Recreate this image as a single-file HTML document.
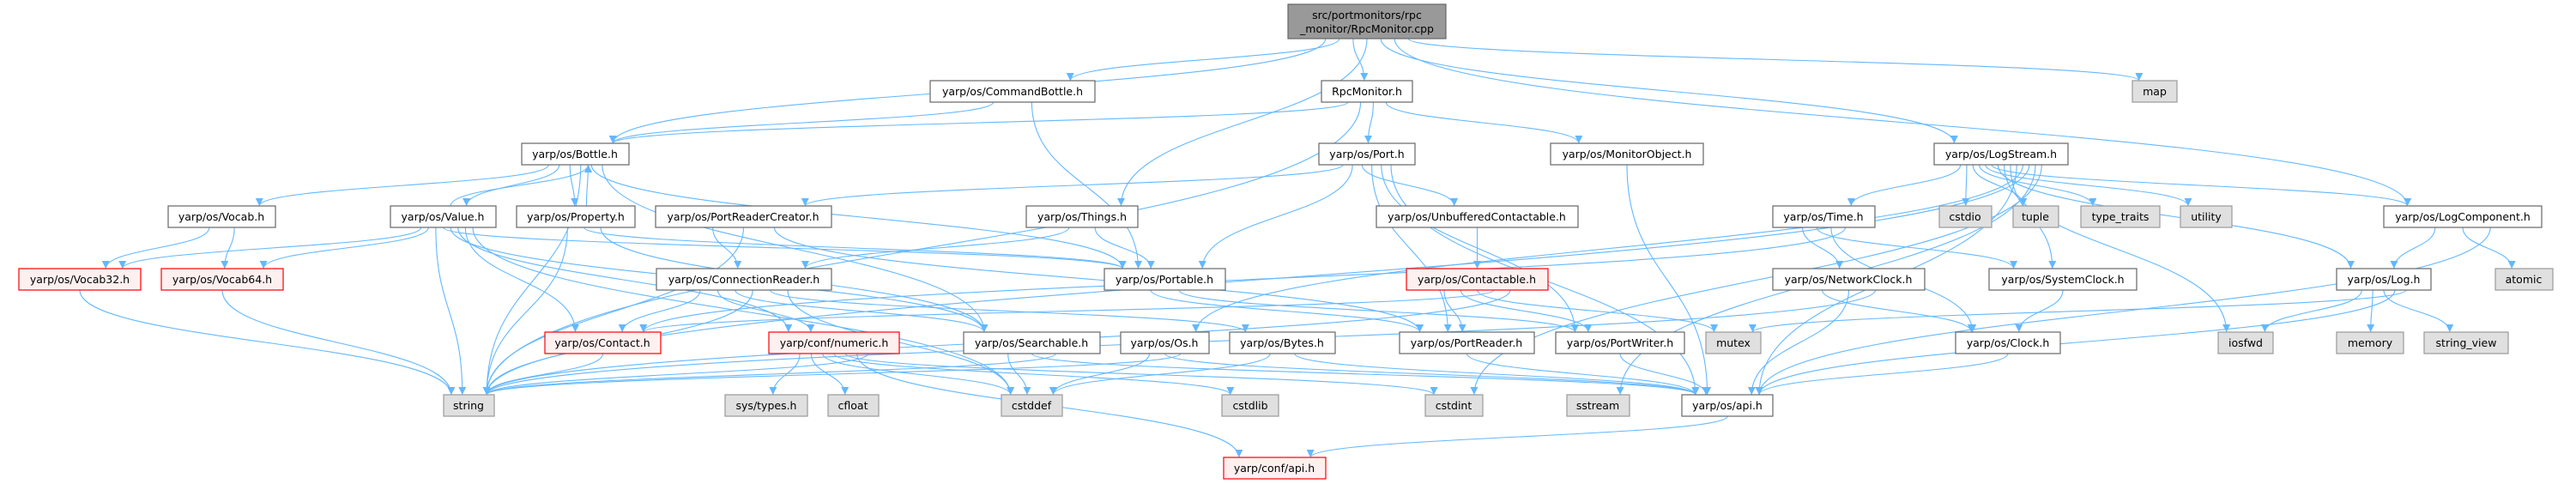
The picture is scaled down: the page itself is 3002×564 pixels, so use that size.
<!DOCTYPE html>
<html><head><meta charset="utf-8"><style>
html,body{margin:0;padding:0;background:#fff;}
svg{display:block;}
text{font-family:"DejaVu Sans","Liberation Sans",sans-serif;font-size:12.5px;text-anchor:middle;fill:#000;}
.n rect{fill:#fff;stroke:#666;stroke-width:1.2;}
.g rect{fill:#e0e0e0;stroke:#999;stroke-width:1.2;}
.r rect{fill:#fff0f0;stroke:#f00;stroke-width:1.2;}
.t rect{fill:#999;stroke:#666;stroke-width:1.2;}
path.e{fill:none;stroke:#63b8ff;stroke-width:1.1;}
</style></head><body>
<svg id="s" width="3002" height="564" viewBox="0 0 3002 564" xmlns="http://www.w3.org/2000/svg">
<defs><marker id="a" viewBox="0 0 10 10" refX="10" refY="5" markerWidth="9" markerHeight="9" markerUnits="userSpaceOnUse" orient="auto"><path d="M0,0 L10,5 L0,10 z" fill="#63b8ff"/></marker></defs>
<g id="edges"></g>
<g class="t"><rect x="1501" y="5" width="184" height="40"/><text x="1593" y="22">src/portmonitors/rpc</text><text x="1593" y="38">_monitor/RpcMonitor.cpp</text></g>
<g class="n"><rect x="1084" y="94" width="192" height="25"/><text x="1180" y="111">yarp/os/CommandBottle.h</text></g>
<g class="n"><rect x="1540" y="94" width="106" height="25"/><text x="1593" y="111">RpcMonitor.h</text></g>
<g class="g"><rect x="2485" y="94" width="52" height="25"/><text x="2511" y="111">map</text></g>
<g class="n"><rect x="608" y="167" width="125" height="25"/><text x="670" y="184">yarp/os/Bottle.h</text></g>
<g class="n"><rect x="1537" y="167" width="112" height="25"/><text x="1593" y="184">yarp/os/Port.h</text></g>
<g class="n"><rect x="1807" y="167" width="178" height="25"/><text x="1896" y="184">yarp/os/MonitorObject.h</text></g>
<g class="n"><rect x="2254" y="167" width="156" height="25"/><text x="2332" y="184">yarp/os/LogStream.h</text></g>
<g class="n"><rect x="196" y="240" width="125" height="25"/><text x="258" y="257">yarp/os/Vocab.h</text></g>
<g class="n"><rect x="455" y="240" width="123" height="25"/><text x="516" y="257">yarp/os/Value.h</text></g>
<g class="n"><rect x="602" y="240" width="138" height="25"/><text x="671" y="257">yarp/os/Property.h</text></g>
<g class="n"><rect x="764" y="240" width="205" height="25"/><text x="866" y="257">yarp/os/PortReaderCreator.h</text></g>
<g class="n"><rect x="1196" y="240" width="130" height="25"/><text x="1261" y="257">yarp/os/Things.h</text></g>
<g class="n"><rect x="1604" y="240" width="235" height="25"/><text x="1721" y="257">yarp/os/UnbufferedContactable.h</text></g>
<g class="n"><rect x="2066" y="240" width="119" height="25"/><text x="2125" y="257">yarp/os/Time.h</text></g>
<g class="g"><rect x="2260" y="240" width="61" height="25"/><text x="2290" y="257">cstdio</text></g>
<g class="g"><rect x="2346" y="240" width="53" height="25"/><text x="2372" y="257">tuple</text></g>
<g class="g"><rect x="2425" y="240" width="92" height="25"/><text x="2471" y="257">type_traits</text></g>
<g class="g"><rect x="2541" y="240" width="60" height="25"/><text x="2571" y="257">utility</text></g>
<g class="n"><rect x="2778" y="240" width="184" height="25"/><text x="2870" y="257">yarp/os/LogComponent.h</text></g>
<g class="r"><rect x="22" y="313" width="142" height="25"/><text x="93" y="330">yarp/os/Vocab32.h</text></g>
<g class="r"><rect x="188" y="313" width="142" height="25"/><text x="259" y="330">yarp/os/Vocab64.h</text></g>
<g class="n"><rect x="765" y="313" width="204" height="25"/><text x="867" y="330">yarp/os/ConnectionReader.h</text></g>
<g class="n"><rect x="1287" y="313" width="141" height="25"/><text x="1357" y="330">yarp/os/Portable.h</text></g>
<g class="r"><rect x="1639" y="313" width="165" height="25"/><text x="1721" y="330">yarp/os/Contactable.h</text></g>
<g class="n"><rect x="2066" y="313" width="177" height="25"/><text x="2154" y="330">yarp/os/NetworkClock.h</text></g>
<g class="n"><rect x="2318" y="313" width="172" height="25"/><text x="2404" y="330">yarp/os/SystemClock.h</text></g>
<g class="n"><rect x="2723" y="313" width="110" height="25"/><text x="2778" y="330">yarp/os/Log.h</text></g>
<g class="g"><rect x="2908" y="313" width="67" height="25"/><text x="2941" y="330">atomic</text></g>
<g class="r"><rect x="635" y="387" width="135" height="25"/><text x="702" y="404">yarp/os/Contact.h</text></g>
<g class="r"><rect x="896" y="387" width="152" height="25"/><text x="972" y="404">yarp/conf/numeric.h</text></g>
<g class="n"><rect x="1123" y="387" width="159" height="25"/><text x="1202" y="404">yarp/os/Searchable.h</text></g>
<g class="n"><rect x="1306" y="387" width="103" height="25"/><text x="1357" y="404">yarp/os/Os.h</text></g>
<g class="n"><rect x="1433" y="387" width="123" height="25"/><text x="1494" y="404">yarp/os/Bytes.h</text></g>
<g class="n"><rect x="1631" y="387" width="157" height="25"/><text x="1709" y="404">yarp/os/PortReader.h</text></g>
<g class="n"><rect x="1813" y="387" width="150" height="25"/><text x="1888" y="404">yarp/os/PortWriter.h</text></g>
<g class="g"><rect x="1988" y="387" width="64" height="25"/><text x="2020" y="404">mutex</text></g>
<g class="n"><rect x="2279" y="387" width="122" height="25"/><text x="2340" y="404">yarp/os/Clock.h</text></g>
<g class="g"><rect x="2585" y="387" width="64" height="25"/><text x="2617" y="404">iosfwd</text></g>
<g class="g"><rect x="2723" y="387" width="78" height="25"/><text x="2762" y="404">memory</text></g>
<g class="g"><rect x="2825" y="387" width="98" height="25"/><text x="2874" y="404">string_view</text></g>
<g class="g"><rect x="517" y="460" width="59" height="25"/><text x="546" y="477">string</text></g>
<g class="g"><rect x="845" y="460" width="96" height="25"/><text x="893" y="477">sys/types.h</text></g>
<g class="g"><rect x="965" y="460" width="59" height="25"/><text x="994" y="477">cfloat</text></g>
<g class="g"><rect x="1167" y="460" width="71" height="25"/><text x="1202" y="477">cstddef</text></g>
<g class="g"><rect x="1424" y="460" width="66" height="25"/><text x="1457" y="477">cstdlib</text></g>
<g class="g"><rect x="1661" y="460" width="67" height="25"/><text x="1694" y="477">cstdint</text></g>
<g class="g"><rect x="1826" y="460" width="73" height="25"/><text x="1862" y="477">sstream</text></g>
<g class="n"><rect x="1960" y="460" width="106" height="25"/><text x="2013" y="477">yarp/os/api.h</text></g>
<g class="r"><rect x="1426" y="533" width="119" height="25"/><text x="1485" y="550">yarp/conf/api.h</text></g>
</svg>
<script>
var N={top:[1501,1685,5,40],CB:[1084,1276,94],RM:[1540,1646,94],map:[2485,2537,94],Bottle:[608,733,167],Port:[1537,1649,167],MO:[1807,1985,167],LS:[2254,2410,167],Vocab:[196,321,240],Value:[455,578,240],Prop:[602,740,240],PRC:[764,969,240],Things:[1196,1326,240],UC:[1604,1839,240],Time:[2066,2185,240],cstdio:[2260,2321,240],tuple:[2346,2399,240],tt:[2425,2517,240],utility:[2541,2601,240],LC:[2778,2962,240],V32:[22,164,313],V64:[188,330,313],CR:[765,969,313],Portable:[1287,1428,313],Contactable:[1639,1804,313],NC:[2066,2243,313],SC:[2318,2490,313],Log:[2723,2833,313],atomic:[2908,2975,313],Contact:[635,770,387],numeric:[896,1048,387],Search:[1123,1282,387],Os:[1306,1409,387],Bytes:[1433,1556,387],PR:[1631,1788,387],PW:[1813,1963,387],mutex:[1988,2052,387],Clock:[2279,2401,387],iosfwd:[2585,2649,387],memory:[2723,2801,387],sv:[2825,2923,387],string:[517,576,460],systypes:[845,941,460],cfloat:[965,1024,460],cstddef:[1167,1238,460],cstdlib:[1424,1490,460],cstdint:[1661,1728,460],sstream:[1826,1899,460],api:[1960,2066,460],confapi:[1426,1545,533]};
var E={top:"Bottle CB RM Things LS LC map",CB:"Bottle Portable",RM:"Bottle string Port MO",Bottle:"Vocab Value Prop string Portable Search",Value:"Bottle V32 V64 string Portable Search numeric Contact cstddef",Prop:"Bottle string Portable Search",Vocab:"V32 V64",V32:"string",V64:"string",Port:"PRC Portable UC PR PW api",PRC:"CR string PR",Things:"CR Portable",CR:"Contact numeric Search string Bytes cstddef",Portable:"PR PW",Contact:"string",numeric:"systypes cfloat cstddef cstdlib cstdint confapi string",Search:"cstddef api string",Os:"cstddef api string",Bytes:"cstddef api",UC:"Contactable",Contactable:"PR PW mutex Contact string",MO:"api",PR:"api",PW:"api",api:"confapi",LS:"Time cstdio tuple tt utility LC Log iosfwd SC api Os string sstream cstdint",Time:"NC SC Clock Contact",NC:"Clock api string",SC:"Clock",Clock:"api",LC:"Log atomic api",Log:"iosfwd memory sv api mutex"};
var g=document.getElementById('edges'),ns="http://www.w3.org/2000/svg";
function h(n){return N[n][3]||25;}
for(var s in E){var L=E[s].split(' ');var S=N[s];var w=S[1]-S[0];
L.forEach(function(t,i){var T=N[t];var sx,sy,tx,ty;
var k=(i+1)/(L.length+1);
if(T[2]<S[2]){sx=S[0]+w*(0.55+0.2*k);sy=S[2];tx=(T[0]+T[1])/2+15;ty=T[2]+h(t);}
else{sx=S[0]+w*(0.15+0.7*k);sy=S[2]+h(s);
var tc=(T[0]+T[1])/2;var tw=T[1]-T[0];tx=tc+Math.max(-tw*0.35,Math.min(tw*0.35,(sx-tc)*0.2));ty=T[2];}
var dy=Math.abs(ty-sy);var d="M"+sx+","+sy+" C"+sx+","+(sy+(ty>sy?1:-1)*dy*0.5)+" "+tx+","+(ty-(ty>sy?1:-1)*dy*0.5)+" "+tx+","+ty;
var p=document.createElementNS(ns,'path');p.setAttribute('d',d);p.setAttribute('class','e');p.setAttribute('marker-end','url(#a)');g.appendChild(p);});}
</script>
</body></html>
